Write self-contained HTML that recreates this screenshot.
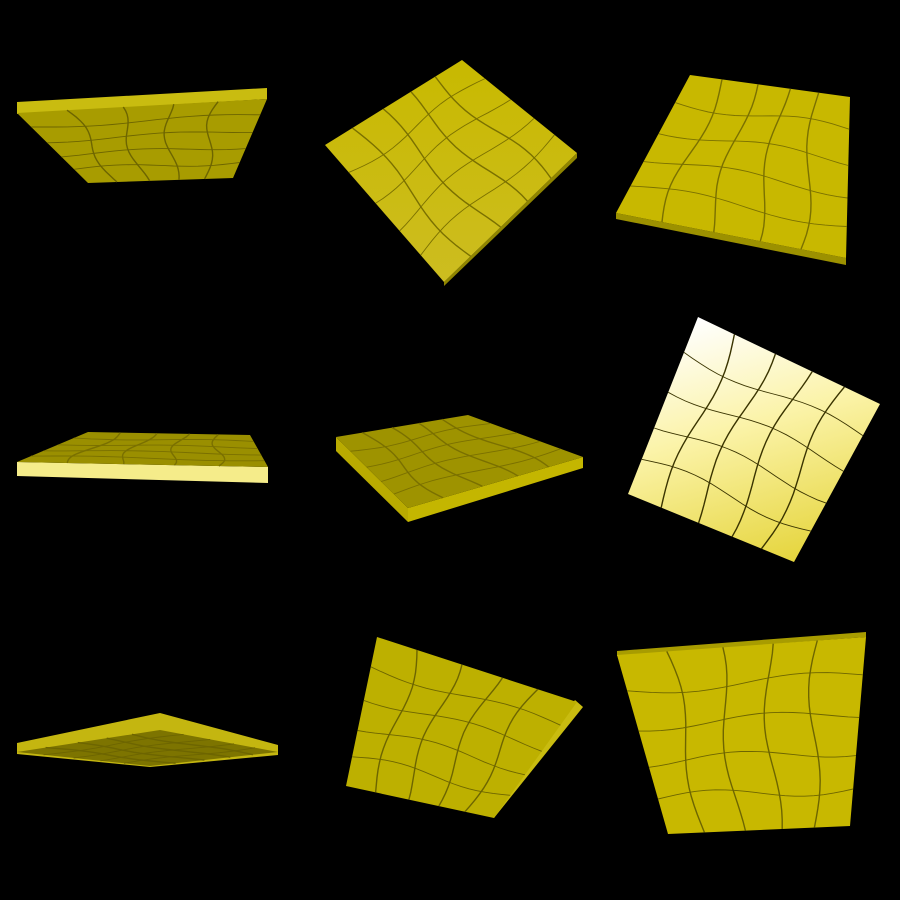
<!DOCTYPE html>
<html>
<head>
<meta charset="utf-8">
<style>
  html, body { margin: 0; padding: 0; background: #000; }
  svg { display: block; }
</style>
</head>
<body>
<svg id="scene" width="900" height="900" viewBox="0 0 900 900" xmlns="http://www.w3.org/2000/svg">
  <defs>
    <linearGradient id="glow" x1="0.3" y1="0" x2="0.6" y2="1">
      <stop offset="0" stop-color="#ffffff"/>
      <stop offset="0.45" stop-color="#fbf3a8"/>
      <stop offset="1" stop-color="#e6d640"/>
    </linearGradient>
    <linearGradient id="g2" x1="0" y1="0" x2="0" y2="1">
      <stop offset="0" stop-color="#c8b900"/>
      <stop offset="1" stop-color="#cdbd20"/>
    </linearGradient>
  </defs>
  <rect x="0" y="0" width="900" height="900" fill="#000"/>

  <!-- tile 1 -->
  <g>
    <polygon points="17,102 267,88 267,99 17,114" fill="#c9bc10"/>
    <polygon id="f1" points="17,113 267,99 233,178 88,183" fill="#a89c00"/>
  </g>
  <!-- tile 2 -->
  <g>
    <polygon points="577,153 444,282 444,286 577,158" fill="#8f8500"/>
    <polygon id="f2" points="325,145 462,60 577,153 444,282" fill="url(#g2)"/>
  </g>
  <!-- tile 3 -->
  <g>
    <polygon points="616,213 846,258 846,265 616,219" fill="#9c9100"/>
    <polygon id="f3" points="690,75 850,97 846,258 616,213" fill="#c8b800"/>
  </g>
  <!-- tile 4 -->
  <g>
    <polygon points="17,462 268,467 268,483 17,476" fill="#f5ec8a"/>
    <polygon id="f4" points="88,432 250,435 268,467 17,462" fill="#9a8f00"/>
  </g>
  <!-- tile 5 -->
  <g>
    <polygon points="336,437 408,508 408,522 336,451" fill="#b9ab00"/>
    <polygon points="408,508 583,457 583,468 408,522" fill="#c4b600"/>
    <polygon id="f5" points="336,437 468,415 583,457 408,508" fill="#9e9300"/>
  </g>
  <!-- tile 6 -->
  <g>
    <polygon id="f6" points="698,317 880,404 794,562 628,494" fill="url(#glow)"/>
  </g>
  <!-- tile 7 -->
  <g>
    <polygon points="17,743 160,713 278,745 278,755 150,767 17,754" fill="#c4b610"/>
    <polygon id="f7" points="17,752 160,730 278,752 150,766" fill="#7d7400"/>
  </g>
  <!-- tile 8 -->
  <g>
    <polygon points="575,700 583,707 494,818 490,813" fill="#c9bc10"/>
    <polygon id="f8" points="377,637 577,702 494,818 346,786" fill="#bdb000"/>
  </g>
  <!-- tile 9 -->
  <g>
    <polygon points="617,651 866,632 866,637 617,656" fill="#a89c00"/>
    <polygon id="f9" points="617,655 866,637 850,826 668,834" fill="#c8b800"/>
  </g>
  <g id="grids"></g>
</svg>
<script>
const faceIds = ['f1','f2','f3','f4','f5','f6','f7','f8','f9'];
const gridFractions = [0.2, 0.4, 0.6, 0.8];
const lineColors = ['#6d6500','#7a7000','#7a7000','#7a7000','#7a7000','#3a3400','#6d6500','#6d6500','#6d6500'];
const ns = 'http://www.w3.org/2000/svg';
const grids = document.getElementById('grids');
function bil(p, u, v) {
  const top = [p[0][0] + (p[1][0]-p[0][0])*u, p[0][1] + (p[1][1]-p[0][1])*u];
  const bot = [p[3][0] + (p[2][0]-p[3][0])*u, p[3][1] + (p[2][1]-p[3][1])*u];
  return [top[0] + (bot[0]-top[0])*v, top[1] + (bot[1]-top[1])*v];
}
faceIds.forEach((id, i) => {
  const pts = document.getElementById(id).getAttribute('points').trim().split(/\s+/).map(s => s.split(',').map(Number));
  gridFractions.forEach((f, k) => {
    let d1 = '', d2 = '';
    for (let s = 0; s <= 20; s++) {
      const t = s / 20;
      const w = 0.03 * Math.sin(t * Math.PI * 2 + k);
      const a = bil(pts, f + w, t);
      const b = bil(pts, t, f + w);
      d1 += (s ? 'L' : 'M') + a[0].toFixed(1) + ',' + a[1].toFixed(1);
      d2 += (s ? 'L' : 'M') + b[0].toFixed(1) + ',' + b[1].toFixed(1);
    }
    [d1, d2].forEach((d, j) => {
      const el = document.createElementNS(ns, 'path');
      el.setAttribute('d', d);
      el.setAttribute('fill', 'none');
      el.setAttribute('stroke', lineColors[i]);
      el.setAttribute('stroke-width', j === 0 ? '1.4' : '0.9');
      
      
      grids.appendChild(el);
    });
  });
});
</script>
</body>
</html>
